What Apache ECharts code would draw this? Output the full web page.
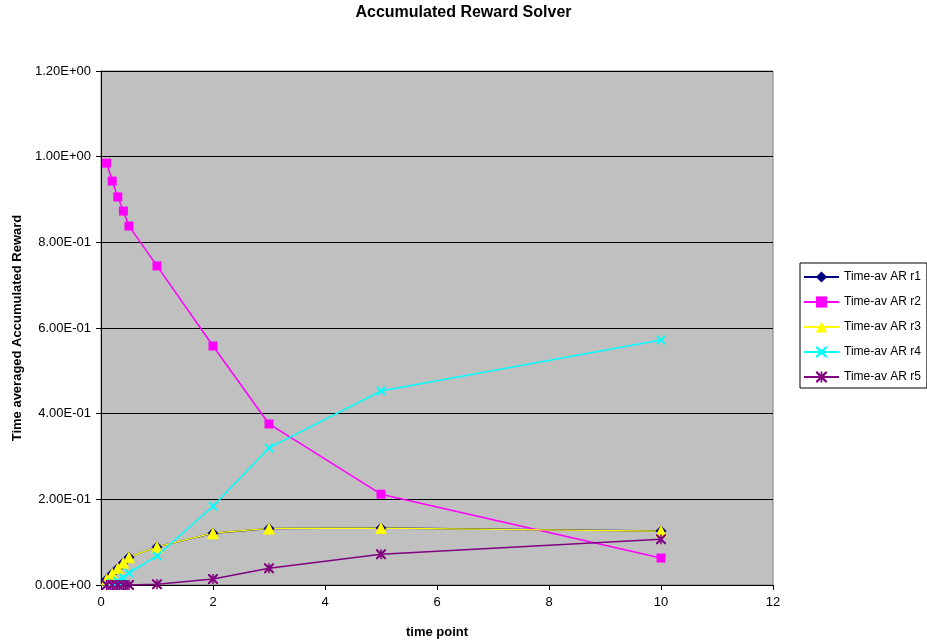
<!DOCTYPE html>
<html>
<head>
<meta charset="utf-8">
<script src="https://cdn.jsdelivr.net/npm/echarts@6/dist/echarts.min.js"></script>
<style>html,body{margin:0;padding:0;background:#fff;}#c{width:927px;height:644px;}</style>
</head>
<body>
<div id="c"></div>
<script>
var timePoints = [0.1, 0.2, 0.3, 0.4, 0.5, 1, 2, 3, 5, 10];
var r1 = [0.013, 0.026, 0.039, 0.052, 0.065, 0.089, 0.121, 0.132, 0.133, 0.126];
var r2 = [0.985, 0.943, 0.906, 0.873, 0.838, 0.745, 0.558, 0.376, 0.212, 0.063];
var r3 = [0.013, 0.026, 0.039, 0.052, 0.065, 0.089, 0.121, 0.132, 0.133, 0.126];
var r4 = [0.001, 0.004, 0.009, 0.017, 0.028, 0.068, 0.184, 0.320, 0.453, 0.572];
var r5 = [0.000, 0.000, 0.000, 0.000, 0.000, 0.002, 0.014, 0.039, 0.072, 0.107];
var seriesNames = ['Time-av AR r1', 'Time-av AR r2', 'Time-av AR r3', 'Time-av AR r4', 'Time-av AR r5'];

function pairs(arr) { return timePoints.map(function (t, i) { return [t, arr[i]]; }); }
function sci(v) {
  if (Math.abs(v) < 1e-12) return '0.00E+00';
  var e = Math.floor(Math.log10(Math.abs(v)) + 1e-9);
  var m = v / Math.pow(10, e);
  var s = m.toFixed(2);
  if (parseFloat(s) >= 10) { e += 1; s = (v / Math.pow(10, e)).toFixed(2); }
  var ae = Math.abs(e);
  return s + 'E' + (e < 0 ? '-' : '+') + (ae < 10 ? '0' : '') + ae;
}
var xSym = 'path://M0,0 L3,0 L10,7 L17,0 L20,0 L20,3 L13,10 L20,17 L20,20 L17,20 L10,13 L3,20 L0,20 L0,17 L7,10 L0,3 Z';
var starSym = 'path://M0,0 L3,0 L8.5,5.5 L8.5,0 L11.5,0 L11.5,5.5 L17,0 L20,0 L20,3 L13,10 L20,17 L20,20 L17,20 L11.5,14.5 L11.5,20 L8.5,20 L8.5,14.5 L3,20 L0,20 L0,17 L7,10 L0,3 Z';

var chart = echarts.init(document.getElementById('c'));
function mk(name, data, color, symbol, size, lw) {
  return {
    name: name, type: 'line', data: pairs(data), symbol: symbol, symbolSize: size,
    lineStyle: { color: color, width: lw }, itemStyle: { color: color, borderWidth: 0 },
    showAllSymbol: true, animation: false
  };
}
var font = 'Liberation Sans';
chart.setOption({
  animation: false,
  title: { text: 'Accumulated Reward Solver', left: 'center', top: 0,
    textStyle: { fontFamily: font, fontWeight: 'bold', fontSize: 16, color: '#000' } },
  grid: { left: 101, right: 154, top: 71, bottom: 59, show: true, backgroundColor: '#C0C0C0', borderColor: '#808080', borderWidth: 1 },
  legend: {
    orient: 'vertical', left: 800, top: 263, itemWidth: 35, itemHeight: 14, itemGap: 13,
    padding: [8, 6, 5, 3], borderColor: '#000', borderWidth: 1, backgroundColor: '#fff',
    textStyle: { fontFamily: font, fontSize: 12, color: '#000' },
    data: seriesNames
  },
  xAxis: {
    type: 'value', min: 0, max: 12, interval: 2,
    name: 'time point', nameLocation: 'middle', nameGap: 41,
    nameTextStyle: { fontFamily: font, fontWeight: 'bold', fontSize: 13, color: '#000' },
    axisLine: { lineStyle: { color: '#000', width: 1 } },
    axisTick: { show: true, length: 5, lineStyle: { color: '#000' } },
    axisLabel: { fontFamily: font, fontSize: 13, color: '#000', margin: 11 },
    splitLine: { show: false }
  },
  yAxis: {
    type: 'value', min: 0, max: 1.2, interval: 0.2,
    name: 'Time averaged Accumulated Reward', nameLocation: 'middle', nameGap: 76, nameRotate: 90,
    nameTextStyle: { fontFamily: font, fontWeight: 'bold', fontSize: 13, color: '#000' },
    axisLine: { show: true, lineStyle: { color: '#000', width: 1 } },
    axisTick: { show: true, length: 5, lineStyle: { color: '#000' } },
    axisLabel: { fontFamily: font, fontSize: 13, color: '#000', margin: 10, formatter: sci },
    splitLine: { show: true, lineStyle: { color: '#000', width: 1 } }
  },
  series: [
    mk(seriesNames[0], r1, '#000080', 'diamond', 11, 1.5),
    mk(seriesNames[1], r2, '#FF00FF', 'rect', 9, 1.5),
    mk(seriesNames[2], r3, '#FFFF00', 'triangle', 12, 1.2),
    mk(seriesNames[3], r4, '#00FFFF', xSym, 9, 1.5),
    mk(seriesNames[4], r5, '#800080', starSym, 10, 1.5)
  ]
});
</script>
</body>
</html>
